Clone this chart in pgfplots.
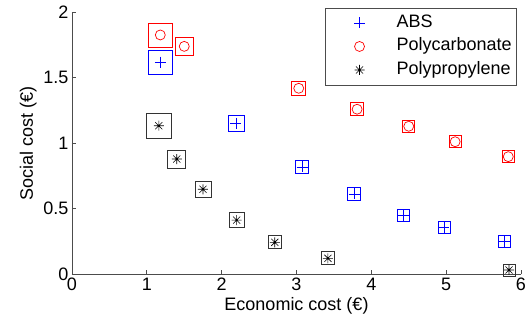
\documentclass[border=0pt]{standalone}
\usepackage{pgfplots}
\pgfplotsset{compat=1.18}
\usepackage{fontspec}
\setmainfont{Liberation Sans}

\pgfdeclareplotmark{mstar}{%
  \pgfpathmoveto{\pgfqpoint{-\pgfplotmarksize}{0pt}}\pgfpathlineto{\pgfqpoint{\pgfplotmarksize}{0pt}}%
  \pgfpathmoveto{\pgfqpoint{0pt}{-\pgfplotmarksize}}\pgfpathlineto{\pgfqpoint{0pt}{\pgfplotmarksize}}%
  \pgfpathmoveto{\pgfqpoint{-0.707\pgfplotmarksize}{-0.707\pgfplotmarksize}}\pgfpathlineto{\pgfqpoint{0.707\pgfplotmarksize}{0.707\pgfplotmarksize}}%
  \pgfpathmoveto{\pgfqpoint{-0.707\pgfplotmarksize}{0.707\pgfplotmarksize}}\pgfpathlineto{\pgfqpoint{0.707\pgfplotmarksize}{-0.707\pgfplotmarksize}}%
  \pgfusepathqstroke
  \pgfpathcircle{\pgfpointorigin}{0.9pt}\pgfusepathqfill}

\pgfplotsset{
  sq/.style={forget plot, only marks, mark=square, line width=0.7pt, mark size=#1},
  leg/.style={legend image code/.code={\path[draw=none,fill=none] (0pt,-1pt) rectangle (66pt,1pt); \draw[##1] plot coordinates {(31pt,0pt)};}},
}

\begin{document}
\begin{tikzpicture}[font=\fontsize{18}{21.6}\selectfont]
\begin{axis}[
  scale only axis,
  width=449pt, height=262pt,
  xmin=0, xmax=6, ymin=0, ymax=2,
  xtick={0,1,2,3,4,5,6},
  ytick={0,0.5,1,1.5,2},
  axis x line*=bottom, axis y line*=left,
  axis line style={black!70, line width=0.7pt},
  tick style={black!70, line width=0.7pt},
  tick align=inside,
  major tick length=4pt,
  /pgf/number format/assume math mode=true,
  xlabel={Economic cost (€)},
  ylabel={Social cost (€)},
  legend style={at={(0.991,1.018)}, anchor=north east, draw=black!70, line width=0.7pt,
    font=\fontsize{18}{21.6}\selectfont,
    nodes={text height=13pt, text depth=4pt, inner ysep=3.25pt},
    inner xsep=3pt, inner ysep=3.3pt},
  legend cell align=left,
  clip=false,
]
% ABS squares (blue)
\addplot[sq=12pt, blue] coordinates {(1.18,1.620)};
\addplot[sq=8pt, blue] coordinates {(2.19,1.153)};
\addplot[sq=6.5pt, blue] coordinates {(3.075,0.820) (3.77,0.613)};
\addplot[sq=6pt, blue] coordinates {(4.43,0.450) (4.97,0.360) (5.78,0.250)};
% Polycarbonate squares (red)
\addplot[sq=12pt, red] coordinates {(1.18,1.827)};
\addplot[sq=9pt, red] coordinates {(1.50,1.740)};
\addplot[sq=7pt, red] coordinates {(3.03,1.420)};
\addplot[sq=6.5pt, red] coordinates {(3.81,1.260)};
\addplot[sq=6pt, red] coordinates {(4.50,1.130) (5.12,1.012) (5.83,0.898)};
% Polypropylene squares (black)
\addplot[sq=12.5pt, black!80] coordinates {(1.16,1.134)};
\addplot[sq=9pt, black!80] coordinates {(1.40,0.880)};
\addplot[sq=8pt, black!80] coordinates {(1.75,0.649)};
\addplot[sq=7.5pt, black!80] coordinates {(2.20,0.414)};
\addplot[sq=6.5pt, black!80] coordinates {(2.71,0.244) (3.42,0.122)};
\addplot[sq=6pt, black!80] coordinates {(5.84,0.033)};
% markers
\addplot[only marks, leg, mark=+, mark size=5.5pt, blue, line width=0.7pt] coordinates {
(1.18,1.620) (2.19,1.153) (3.075,0.820) (3.77,0.613) (4.43,0.450) (4.97,0.360) (5.78,0.250)};
\addlegendentry{ABS}
\addplot[only marks, leg, mark=o, mark size=5pt, red, line width=0.7pt] coordinates {
(1.18,1.827) (1.50,1.740) (3.03,1.420) (3.81,1.260) (4.50,1.130) (5.12,1.012) (5.83,0.898)};
\addlegendentry{Polycarbonate}
\addplot[only marks, leg, mark=mstar, mark size=5pt, black, line width=0.6pt] coordinates {
(1.16,1.134) (1.40,0.880) (1.75,0.649) (2.20,0.414) (2.71,0.244) (3.42,0.122) (5.84,0.033)};
\addlegendentry{Polypropylene}
\end{axis}
\path ([shift={(-72pt,-51pt)}]current axis.south west) rectangle ([shift={(11pt,12.3pt)}]current axis.north east);
\end{tikzpicture}
\end{document}
